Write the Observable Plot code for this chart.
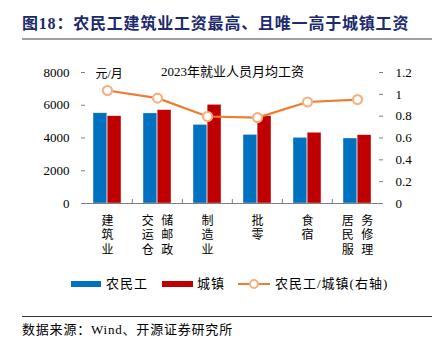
<!DOCTYPE html>
<html>
<head>
<meta charset="utf-8">
<script src="https://cdn.jsdelivr.net/npm/d3@7"></script>
<script src="https://cdn.jsdelivr.net/npm/@observablehq/plot@0.6"></script>
<style>
  html, body { margin: 0; padding: 0; background: #fff; }
  body { width: 440px; height: 342px; position: relative; overflow: hidden;
         font-family: "Liberation Serif", "Noto Sans CJK SC", serif; color: #000; }
  .abs { position: absolute; white-space: nowrap; }
  #title { left: 22px; top: 13px; font-size: 16px; font-weight: bold; color: #1c2a6e; line-height: 22px; letter-spacing: 0.8px; }
  #rule1 { left: 22px; top: 38px; width: 410px; height: 2px; background: #a0a0a0; }
  #chart { left: 0; top: 45px; }
  #chart svg, #chart svg text { font-family: "Liberation Serif", "Noto Sans CJK SC", serif !important; }
  .leg { font-size: 13px; line-height: 16px; letter-spacing: 1px; }
  #rule2 { left: 22px; top: 316px; width: 410px; height: 1px; background: #333; }
  #source { left: 22px; top: 321px; font-size: 13px; line-height: 18px; letter-spacing: 0.8px; }
</style>
</head>
<body>
<div id="title" class="abs">图18：农民工建筑业工资最高、且唯一高于城镇工资</div>
<div id="rule1" class="abs"></div>
<div id="chart" class="abs"></div>
<div id="legend"></div>
<div id="rule2" class="abs"></div>
<div id="source" class="abs">数据来源：Wind、开源证券研究所</div>
<script>
// ---- data ----
const categories = ["建筑业", "交运仓储邮政", "制造业", "批零", "食宿", "居民服务修理"];
const migrant = [5510, 5500, 4800, 4190, 4010, 3970];   // 农民工 (元/月)
const urban   = [5330, 5700, 6025, 5330, 4320, 4170];   // 城镇 (元/月)
const ratio   = [1.035, 0.965, 0.797, 0.787, 0.93, 0.952]; // 农民工/城镇 (右轴)
const leftTicks  = [0, 2000, 4000, 6000, 8000];
const rightTicks = [0, 0.2, 0.4, 0.6, 0.8, 1, 1.2];
const seriesNames = ["农民工", "城镇", "农民工/城镇(右轴)"];
const chartTitle = "2023年就业人员月均工资";
const unitLabel = "元/月";

// ---- styles ----
const blue = "#0070C0", red = "#C00000", orange = "#ED7D31", orangeLight = "#F4B183";
const W = 440, H = 225, mL = 81, mR = 57, mT = 27, mB = 67;
const frameW = W - mL - mR, frameH = H - mT - mB;
const bw = frameW / categories.length;
const yMax = 8000, rMax = 1.2, k = yMax / rMax;

const rows = categories.map((c, i) => ({cat: c, migrant: migrant[i], urban: urban[i], ratio: ratio[i]}));
const single = categories.filter(c => c.length <= 3);
const dbl = categories.filter(c => c.length > 3);
const vert = s => s.split("").join("\n");

const barStyle = {stroke: "#ffffff", strokeOpacity: 0.6, strokeWidth: 0.6};
const chart = Plot.plot({
  width: W, height: H, marginTop: mT, marginBottom: mB, marginLeft: mL, marginRight: mR,
  style: {fontSize: "13px", color: "#000", background: "transparent", overflow: "visible"},
  x: {domain: categories, padding: 0, axis: null},
  y: {domain: [0, yMax], axis: null},
  marks: [
    Plot.barY(rows, {x: "cat", y: "migrant", fill: blue, insetLeft: bw * 0.219, insetRight: bw / 2, ...barStyle}),
    Plot.barY(rows, {x: "cat", y: "urban", fill: red, insetLeft: bw / 2, insetRight: bw * 0.219, ...barStyle}),
    Plot.ruleY([0], {stroke: "#7f7f7f", strokeWidth: 1.2}),
    Plot.ruleX(categories.slice(1), {x: d => d, dx: -bw / 2, stroke: "#7f7f7f", insetTop: frameH - 4}),
    Plot.axisY({ticks: leftTicks, anchor: "left", tickSize: 0, tickPadding: 12, line: true, stroke: "#7f7f7f", label: null, fontSize: 13,
      tickFormat: d => String(d)}),
    Plot.tickY(leftTicks, {y: d => d, stroke: "#7f7f7f", insetRight: frameW - 4}),
    Plot.axisY({ticks: rightTicks.map(v => v * k), anchor: "right", tickSize: 0, tickPadding: 12, line: true, stroke: "#7f7f7f", label: null, fontSize: 13,
      tickFormat: d => String(+(d / k).toFixed(1))}),
    Plot.tickY(rightTicks.map(v => v * k), {y: d => d, stroke: "#7f7f7f", insetLeft: frameW - 4}),
    Plot.line(rows, {x: "cat", y: d => d.ratio * k, stroke: orange, strokeWidth: 2.2}),
    Plot.dot(rows, {x: "cat", y: d => d.ratio * k, r: 4.5, fill: "#fff", stroke: orangeLight, strokeWidth: 2.2}),
    Plot.text(single, {x: d => d, text: vert, frameAnchor: "bottom", lineAnchor: "top", dy: 11, lineHeight: 1.2, fontSize: 12}),
    Plot.text(dbl, {x: d => d, text: d => vert(d.slice(0, 3)), frameAnchor: "bottom", lineAnchor: "top", dy: 11, dx: -9.7, lineHeight: 1.2, fontSize: 12}),
    Plot.text(dbl, {x: d => d, text: d => vert(d.slice(3)), frameAnchor: "bottom", lineAnchor: "top", dy: 11, dx: 9.7, lineHeight: 1.2, fontSize: 12}),
    Plot.text([chartTitle], {frameAnchor: "top", lineAnchor: "middle", dy: -1, fontSize: 13}),
    Plot.text([unitLabel], {frameAnchor: "top-left", textAnchor: "start", lineAnchor: "middle", dx: 14, dy: 1.5, fontSize: 12})
  ]
});
document.getElementById("chart").appendChild(chart);

// ---- legend ----
const leg = document.getElementById("legend");
function add(html, css, cls) { const d = document.createElement("div"); d.className = cls || "abs"; d.style.cssText = css; d.textContent = html; leg.appendChild(d); return d; }
add("", `left:71px;top:281px;width:30px;height:6px;background:${blue}`);
add(seriesNames[0], "left:106px;top:276px;", "abs leg");
add("", `left:162px;top:281px;width:31px;height:6px;background:${red}`);
add(seriesNames[1], "left:197px;top:276px;", "abs leg");
add("", `left:238px;top:283px;width:32px;height:2px;background:${orange}`);
add("", `left:249px;top:279px;width:6px;height:6px;border-radius:50%;background:#fff;border:2px solid ${orangeLight}`);
add(seriesNames[2], "left:275px;top:276px;", "abs leg");
</script>
</body>
</html>
